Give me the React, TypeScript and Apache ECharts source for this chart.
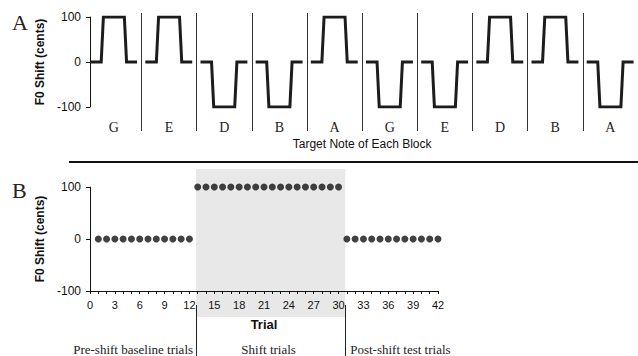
import { useEffect, useRef } from "react";
import * as echarts from "echarts";

// Panel A: target note and pitch-shift direction of each block
const blockNotes = ["G", "E", "D", "B", "A", "G", "E", "D", "B", "A"];
const blockShifts = [100, 100, -100, -100, 100, -100, -100, 100, 100, -100];
// time course of the shift within one block (fraction of block, fraction of shift)
const pulseTimes = [0.07, 0.27, 0.31, 0.69, 0.73, 0.92];
const pulseLevels = [0, 0, 1, 1, 0, 0];

// Panel B: shift applied on each trial
const trialShifts = [
  0, 0, 0, 0, 0, 0, 0, 0, 0, 0, 0, 0,
  100, 100, 100, 100, 100, 100, 100, 100, 100, 100, 100, 100, 100, 100, 100, 100, 100, 100,
  0, 0, 0, 0, 0, 0, 0, 0, 0, 0, 0, 0,
];
const phaseBounds = [12.8, 30.8];
const phaseNames = ["Pre-shift baseline trials", "Shift trials", "Post-shift test trials"];
const yTickValues = [-100, 0, 100];

const SANS = "'Liberation Sans', Arial, sans-serif";
const SERIF = "'Liberation Serif', 'Times New Roman', serif";

export default function App() {
  const ref = useRef<HTMLDivElement>(null);
  useEffect(() => {
    const chart = echarts.init(ref.current!, null, { renderer: "svg" });

    const waveData: any[] = [];
    blockShifts.forEach((v, i) => {
      pulseTimes.forEach((t, k) => waveData.push([i + t, pulseLevels[k] * v]));
      waveData.push([i + 0.96, "-"]);
    });
    const trialData = trialShifts.map((v, i) => [i + 1, v]);

    const hiddenX = (min: number, max: number, gridIndex: number) => ({
      type: "value", gridIndex, min, max, show: false,
    });
    const hiddenY = (gridIndex: number) => ({
      type: "value", gridIndex, min: 0, max: 1, show: false,
    });
    const shiftY = (gridIndex: number) => ({
      type: "value",
      gridIndex,
      min: -100,
      max: 100,
      interval: 100,
      axisLine: { show: true, onZero: false, lineStyle: { color: "#111", width: 1 } },
      axisTick: { show: true, length: 4, lineStyle: { color: "#111" } },
      splitLine: { show: false },
      axisLabel: { fontFamily: SANS, fontSize: 12, color: "#111", margin: 9, customValues: yTickValues },
      name: "F0 Shift (cents)",
      nameLocation: "middle",
      nameRotate: 90,
      nameGap: 43,
      nameTextStyle: { fontFamily: SANS, fontSize: 12, fontWeight: "bold", color: "#111" },
    });

    const option: any = {
      animation: false,
      backgroundColor: "#fff",
      grid: [
        { left: 90, top: 17, width: 553.75, height: 90 },
        { left: 86.25, top: 13, width: 557.5, height: 118 },
        { left: 86.25, top: 17, width: 557.5, height: 90 },
        { left: 90, top: 187, width: 348, height: 104 },
        { left: 90, top: 169, width: 348, height: 148 },
        { left: 90, top: 305, width: 348, height: 51 },
      ],
      xAxis: [
        hiddenX(0.0673, 10, 0),
        hiddenX(0, 10, 1),
        {
          type: "category",
          gridIndex: 2,
          data: blockNotes,
          axisLine: { show: false },
          axisTick: { show: false },
          axisLabel: { fontFamily: SERIF, fontSize: 14, color: "#222", margin: 13, interval: 0 },
          name: "Target Note of Each Block",
          nameLocation: "middle",
          nameGap: 31,
          nameTextStyle: { fontFamily: SANS, fontSize: 12, color: "#111" },
        },
        {
          type: "value",
          gridIndex: 3,
          min: 0,
          max: 42,
          interval: 3,
          axisLine: { show: true, onZero: false, lineStyle: { color: "#111", width: 1 } },
          axisTick: { show: true, length: 3, lineStyle: { color: "#111" } },
          minorTick: { show: true, splitNumber: 3, length: 3, lineStyle: { color: "#111" } },
          splitLine: { show: false },
          minorSplitLine: { show: false },
          axisLabel: { fontFamily: SANS, fontSize: 11, color: "#111", margin: 8 },
          name: "Trial",
          nameLocation: "middle",
          nameGap: 27,
          nameTextStyle: { fontFamily: SANS, fontSize: 13, fontWeight: "bold", color: "#111" },
        },
        hiddenX(0, 42, 4),
        hiddenX(0, 42, 5),
      ],
      yAxis: [shiftY(0), hiddenY(1), hiddenY(2), shiftY(3), hiddenY(4), hiddenY(5)],
      series: [
        {
          type: "line",
          xAxisIndex: 0,
          yAxisIndex: 0,
          data: waveData,
          symbol: "none",
          connectNulls: false,
          lineStyle: { color: "#1c1c1c", width: 3, join: "miter" },
          silent: true,
          z: 3,
        },
        {
          type: "line",
          xAxisIndex: 1,
          yAxisIndex: 1,
          data: [],
          silent: true,
          markLine: {
            silent: true,
            symbol: ["none", "none"],
            label: { show: false },
            lineStyle: { color: "#333", width: 1, type: "solid" },
            emphasis: { disabled: true },
            data: blockNotes.slice(1).map((_, i) => ({ xAxis: i + 1 })),
          },
        },
        {
          type: "line",
          xAxisIndex: 4,
          yAxisIndex: 4,
          data: [],
          silent: true,
          z: -2,
          markArea: {
            silent: true,
            z: -2,
            itemStyle: { color: "#e8e8e8" },
            data: [[{ xAxis: phaseBounds[0] }, { xAxis: phaseBounds[1] }]],
          },
        },
        {
          type: "scatter",
          xAxisIndex: 3,
          yAxisIndex: 3,
          data: trialData,
          symbol: "circle",
          symbolSize: 7,
          itemStyle: { color: "#111" },
          silent: true,
          z: 4,
        },
        {
          type: "line",
          xAxisIndex: 5,
          yAxisIndex: 5,
          data: [],
          silent: true,
          markLine: {
            silent: true,
            symbol: ["none", "none"],
            label: { show: false },
            lineStyle: { color: "#222", width: 1, type: "solid" },
            emphasis: { disabled: true },
            data: phaseBounds.map((b) => ({ xAxis: b })),
          },
        },
      ],
    };
    chart.setOption(option);

    const px = (v: number) => chart.convertToPixel({ xAxisIndex: 5 }, v) as number;
    const b0 = px(phaseBounds[0]);
    const b1 = px(phaseBounds[1]);
    const labelY = 349;
    chart.setOption({
      graphic: [
        { type: "text", x: 12, y: 11, style: { text: "A", font: `22px ${SERIF}`, fill: "#222" } },
        { type: "text", x: 12, y: 179, style: { text: "B", font: `22px ${SERIF}`, fill: "#222" } },
        {
          type: "line",
          shape: { x1: 69, y1: 162, x2: 638, y2: 162 },
          style: { stroke: "#111", lineWidth: 2 },
        },
        {
          type: "text", x: b0 - 3, y: labelY,
          style: { text: phaseNames[0], font: `13px ${SERIF}`, fill: "#222", align: "right", verticalAlign: "middle" },
        },
        {
          type: "text", x: (b0 + b1) / 2 - 2, y: labelY,
          style: { text: phaseNames[1], font: `13px ${SERIF}`, fill: "#222", align: "center", verticalAlign: "middle" },
        },
        {
          type: "text", x: b1 + 5, y: labelY,
          style: { text: phaseNames[2], font: `13px ${SERIF}`, fill: "#222", align: "left", verticalAlign: "middle" },
        },
      ],
    });

    return () => chart.dispose();
  }, []);
  return <div ref={ref} style={{ position: "fixed", left: 0, top: 0, width: 638, height: 356 }} />;
}
